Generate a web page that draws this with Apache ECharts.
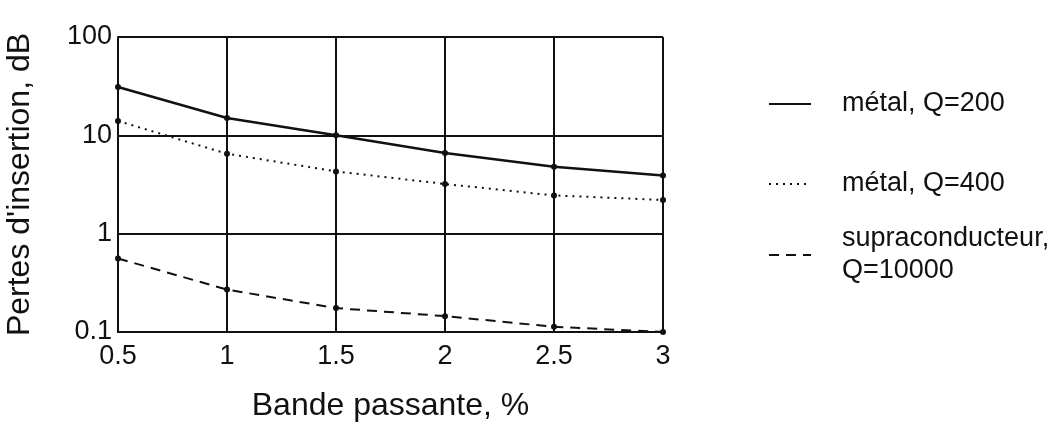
<!DOCTYPE html>
<html>
<head>
<meta charset="utf-8">
<script src="https://cdn.jsdelivr.net/npm/echarts@6/dist/echarts.min.js"></script>
<style>
  html, body { margin: 0; padding: 0; background: #fff; }
  #chart { width: 1059px; height: 423px; }
</style>
</head>
<body>
<div id="chart"></div>
<script>
// Bande passante (%) on x, insertion loss (dB, log scale) on y
const bandwidth = [0.5, 1, 1.5, 2, 2.5, 3];
const metalQ200 = [31, 15, 10, 6.6, 4.8, 3.9];
const metalQ400 = [14, 6.5, 4.3, 3.2, 2.45, 2.2];
const supraQ10000 = [0.56, 0.27, 0.175, 0.145, 0.113, 0.1];
const xTickLabels = ['0.5', '1', '1.5', '2', '2.5', '3'];
const yTickLabels = { 0.1: '0.1', 1: '1', 10: '10', 100: '100' };
const seriesNames = ['métal, Q=200', 'métal, Q=400', 'supraconducteur,\nQ=10000'];

const FONT = '"Liberation Sans", Arial, sans-serif';
const INK = '#111';

function pairs(ys) {
  return bandwidth.map((x, i) => [x, ys[i]]);
}

function lineSeries(name, ys, type, width) {
  return {
    name: name,
    type: 'line',
    data: pairs(ys),
    symbol: 'circle',
    symbolSize: 6,
    smooth: false,
    itemStyle: { color: INK },
    lineStyle: { color: INK, width: width, type: type },
    emphasis: { disabled: true },
    z: 5
  };
}

// one legend block per series so each row sits at its own height
function legendFor(name, top) {
  return {
    data: [name],
    left: 763,
    top: top,
    orient: 'vertical',
    itemWidth: 42,
    itemHeight: 14,
    selectedMode: false,
    itemStyle: { color: 'rgba(0,0,0,0)', borderWidth: 0, opacity: 0 },
    textStyle: {
      fontFamily: FONT, fontSize: 27, color: INK,
      lineHeight: 32, padding: [0, 0, 0, 26]
    }
  };
}

const chart = echarts.init(document.getElementById('chart'), null, { renderer: 'canvas' });
chart.setOption({
  animation: false,
  backgroundColor: '#fff',
  grid: { left: 118, right: 396, top: 37, bottom: 91, outerBoundsMode: 'none', containLabel: false },
  legend: [
    legendFor(seriesNames[0], 83),
    legendFor(seriesNames[1], 163),
    legendFor(seriesNames[2], 218)
  ],
  xAxis: {
    type: 'value',
    min: 0.5,
    max: 3,
    interval: 0.5,
    name: 'Bande passante, %',
    nameLocation: 'middle',
    nameGap: 58,
    nameTextStyle: { fontFamily: FONT, fontSize: 32, color: INK },
    axisLine: { show: true, lineStyle: { color: INK, width: 2 } },
    axisTick: { show: false },
    axisLabel: {
      fontFamily: FONT, fontSize: 27, color: INK, margin: 11,
      formatter: (v) => xTickLabels[bandwidth.indexOf(v)] ?? ''
    },
    splitLine: { show: true, lineStyle: { color: INK, width: 2 } }
  },
  yAxis: {
    type: 'log',
    logBase: 10,
    min: 0.1,
    max: 100,
    name: "Pertes d'insertion, dB",
    nameLocation: 'middle',
    nameGap: 82,
    nameTextStyle: { fontFamily: FONT, fontSize: 32, color: INK },
    axisLine: { show: true, lineStyle: { color: INK, width: 2 } },
    axisTick: { show: false },
    axisLabel: {
      fontFamily: FONT, fontSize: 27, color: INK, margin: 6,
      formatter: (v) => yTickLabels[v] ?? String(v)
    },
    splitLine: { show: true, lineStyle: { color: INK, width: 2 } }
  },
  series: [
    lineSeries(seriesNames[0], metalQ200, 'solid', 2.5),
    lineSeries(seriesNames[1], metalQ400, [2, 5], 2),
    lineSeries(seriesNames[2], supraQ10000, [10, 7], 2)
  ]
});
</script>
</body>
</html>
